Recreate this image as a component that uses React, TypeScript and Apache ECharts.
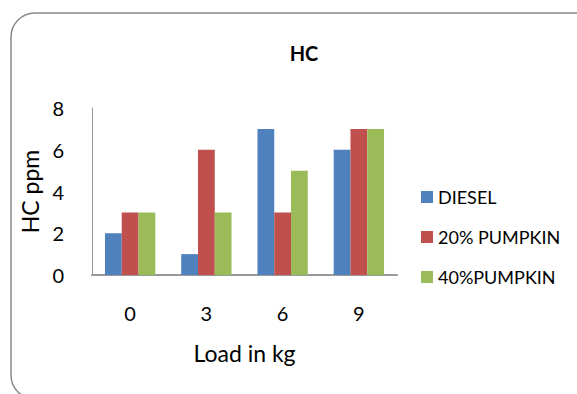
import React, { useEffect, useRef } from "react";
import * as echarts from "echarts";

const categories = ["0", "3", "6", "9"];
const diesel = [2, 1, 7, 6];
const pumpkin20 = [3, 6, 3, 7];
const pumpkin40 = [3, 3, 5, 7];
const seriesNames = ["DIESEL", "20% PUMPKIN", "40%PUMPKIN"];
const colors = ["#4F81BD", "#C0504D", "#9BBB59"];
const FONT = "Lato, 'Open Sans', sans-serif";

export default function App() {
  const ref = useRef<HTMLDivElement>(null);
  useEffect(() => {
    if (!ref.current) return;
    const chart = echarts.init(ref.current, null, { renderer: "svg" });
    const data = [diesel, pumpkin20, pumpkin40];
    chart.setOption({
      animation: false,
      backgroundColor: "#ffffff",
      textStyle: { fontFamily: FONT },
      title: {
        text: "HC",
        left: 299,
        top: 38,
        textAlign: "center",
        textStyle: { fontSize: 20, fontWeight: "bold", color: "#000", fontFamily: FONT },
      },
      graphic: [
        {
          type: "rect",
          shape: { x: 11, y: 13, width: 590, height: 386, r: 24 },
          style: { fill: "none", stroke: "#8a8a8a", lineWidth: 1.5 },
          silent: true,
        },
      ],
      legend: {
        orient: "vertical",
        left: 416,
        top: 183,
        itemGap: 22,
        itemWidth: 12,
        itemHeight: 12,
        icon: "rect",
        data: seriesNames,
        textStyle: { fontSize: 18, color: "#000", fontFamily: FONT },
      },
      grid: { left: 92, top: 108, width: 305, height: 167 },
      xAxis: {
        type: "category",
        data: categories,
        name: "Load in kg",
        nameLocation: "middle",
        nameGap: 66,
        nameTextStyle: { fontSize: 23, color: "#000", fontFamily: FONT },
        axisLine: { lineStyle: { color: "#999", width: 2 } },
        axisTick: { show: false },
        axisLabel: { fontSize: 20, color: "#000", margin: 28, fontFamily: FONT },
      },
      yAxis: {
        type: "value",
        min: 0,
        max: 8,
        interval: 2,
        name: "HC ppm",
        nameLocation: "middle",
        nameGap: 50,
        nameTextStyle: { fontSize: 23, color: "#000", fontFamily: FONT },
        axisLine: { show: true, lineStyle: { color: "#999", width: 1 } },
        axisTick: { show: false },
        splitLine: { show: false },
        axisLabel: { fontSize: 20, color: "#000", margin: 28, fontFamily: FONT },
      },
      series: seriesNames.map((name, i) => ({
        name,
        type: "bar",
        data: data[i],
        barGap: "0%",
        barCategoryGap: "34%",
        itemStyle: { color: colors[i] },
      })),
    });
    return () => chart.dispose();
  }, []);
  return (
    <div
      ref={ref}
      style={{ position: "fixed", left: 0, top: 0, width: 577, height: 394 }}
    />
  );
}
